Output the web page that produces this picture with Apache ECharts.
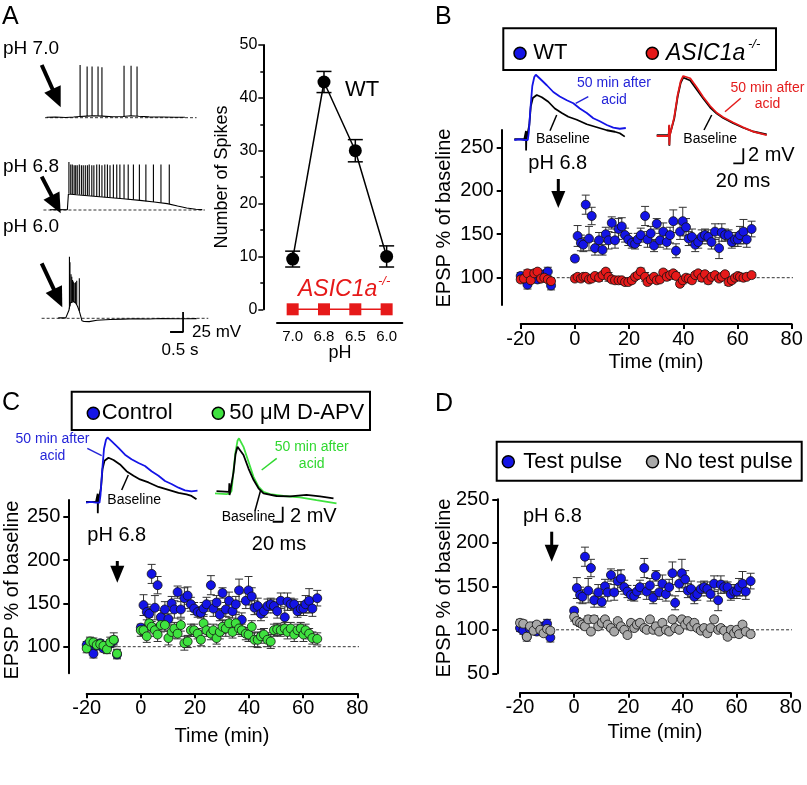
<!DOCTYPE html>
<html><head><meta charset="utf-8">
<script src="https://cdn.jsdelivr.net/npm/echarts@6/dist/echarts.min.js"></script>
<style>html,body{margin:0;padding:0;background:#fff}#c{width:807px;height:785px}</style>
</head><body><div id="c"></div>
<script>
// ================= DATA =================
// Panel A: number of spikes vs pH
const phCategories = ['7.0', '6.8', '6.5', '6.0'];
const spikesWT = [9.5, 43, 30, 10];
const spikesWTErr = [1.5, 2, 2.1, 2];
const spikesASIC = [0, 0, 0, 0];

// Panel A traces: [time (s), mV relative to rest]
const traceA70 = [[0.06,0.5],[0.4,0.8],[0.8,0.3],[1.1,0.8],[1.35,1.5],[1.6,2],[1.9,2.5],[2.2,2],[2.6,1.2],[3.0,1.5],[3.3,2.5],[3.6,1.8],[4.0,1.0],[4.5,0.8],[5.0,0.5],[5.38,0.6]];
const spikesA70 = [[1.35,1.5,66],[1.62,2,64],[1.81,2,64],[2.04,2.5,64],[2.19,2,63],[3.04,1.5,65],[3.31,2.5,65],[3.54,2,64]];
const traceA68 = [[0.19,0.3],[0.5,0.5],[0.86,0.3],[0.9,20],[0.95,21],[1.2,19],[2.1,16.5],[3.0,14],[3.65,12],[4.2,10],[4.7,8],[5.1,5],[5.45,2.5],[5.8,1],[6.05,0.5]];
const spikesA68 = [[0.92,21,60],[0.99,20,57],[1.05,20,57],[1.12,19.5,56],[1.18,19.5,56],[1.24,19.5,56],[1.32,19,57],[1.40,19,56],[1.47,18.5,56],[1.55,18.5,56],[1.63,18,56],[1.70,18,57],[1.80,17.5,56],[1.88,17.5,56],[1.99,17,57],[2.09,16.5,57],[2.19,16.5,56],[2.30,16,57],[2.40,16,57],[2.50,15.5,56],[2.63,15,57],[2.76,15,57],[2.88,14.5,57],[3.04,14,57],[3.20,13.5,57],[3.40,13,57],[3.63,12,57],[3.88,11,57],[4.17,10,57],[4.46,9,57],[4.78,7.5,57]];
const traceA60 = [[0.51,0.5],[0.8,0.5],[0.87,0.3],[0.92,10],[0.97,19],[1.03,21],[1.1,21],[1.18,19],[1.25,15],[1.32,9],[1.38,2],[1.42,-3],[1.5,-4],[1.7,-4.2],[2.0,-2.5],[2.5,-1.5],[3.0,-1],[3.5,-0.5],[4.0,-0.8],[4.5,-0.3],[5.0,-0.6],[5.5,-0.5],[5.83,-0.4]];
const spikesA60 = [[0.94,12,77],[0.96,15,70],[1.0,19,55],[1.03,20,52],[1.06,21,48],[1.09,21,46],[1.12,20,44],[1.17,19,45],[1.22,17,47],[1.32,9,50]];
const baselineA70 = [0, 5.83];
const baselineA68 = [-0.06, 6.15];
const baselineA60 = [-0.13, 6.28];
const scaleBarA = [0.5, 25];   // s, mV

// EPSP time course: time (min)
const timePre = [-20,-18.8,-17.5,-16.3,-15,-13.8,-12.5,-11.3,-10,-8.8];
const timePost = [0,1,2.2,3.1,4.0,5.2,6.2,7.4,8.9,10.2,11.4,12.4,13.6,14.8,16.1,17.3,18.5,19.7,21.0,22.2,23.2,24.3,25.9,26.8,28.0,29.2,30.2,31.4,32.6,33.9,35.1,36.3,37.3,38.8,39.8,41.0,42.0,43.2,44.4,45.5,46.8,48.0,49.2,50.4,51.7,53.2,54.2,55.4,56.7,57.9,59.1,60.1,60.9,62.2,63.4,65.2];
const wtPre = [102,99,92,101,104,98,100,104,107,91];
const wtPreErr = [4,4,5,4,4,4,4,4,5,5];
const wtPost = [122,148,140,138,184,145,171,134,143,132,150,143,163,143,156,159,149,144,140,139,144,149,171,144,151,137,162,143,153,141,149,165,131,153,165,158,145,147,138,141,147,149,147,141,153,134,152,149,149,141,144,144,149,153,144,156];
const wtPostErr = [3,12,9,8,11,14,10,8,9,6,8,10,7,9,12,10,8,7,6,6,7,8,11,9,8,7,6,8,10,8,9,13,8,9,16,10,8,9,8,7,8,7,8,8,9,12,10,7,6,7,8,8,10,14,9,9];
const asicPre = [98,99,105,97,105,107,99,100,98,96];
const asicPreErr = [3,3,4,3,4,3,3,3,3,3];
const asicPost = [99,101,99,101,101,98,99,102,100,103,107,101,98,97,97,97,95,95,97,101,103,107,101,95,98,101,97,98,106,101,103,105,102,93,97,100,99,97,103,105,100,104,97,101,103,99,101,104,95,97,100,102,101,100,101,103];
const asicPostErr = [3,3,3,3,3,3,3,3,4,3,3,5,3,3,3,3,3,3,3,3,3,4,5,3,3,3,3,3,3,4,3,3,4,3,4,3,3,3,3,3,4,3,4,3,3,3,3,3,4,3,3,3,3,3,3,3];
const apvPre = [98,106,105,102,103,101,97,105,108,92];
const apvPreErr = [5,5,5,4,4,5,5,6,8,5];
const apvPost = [119,119,112,127,123,119,114,125,125,110,117,121,115,125,104,106,119,119,115,108,127,119,115,119,110,117,123,121,127,117,127,121,119,115,114,123,108,108,112,114,108,106,119,120,119,121,117,121,114,119,121,114,119,115,110,109];
const apvPostErr = [7,6,7,7,6,7,8,8,7,8,7,7,6,7,8,7,7,7,6,7,8,7,7,7,7,8,8,9,7,7,10,7,7,7,8,7,8,9,8,7,8,8,7,7,7,7,8,7,8,7,7,8,7,6,7,7];
const noTestPre = [108,107,92,104,99,106,100,96,101,99];
const noTestPreErr = [4,4,3,3,3,3,3,3,3,3];
const noTestPost = [115,110,108,106,104,112,98,112,104,108,112,106,102,98,110,104,100,94,108,102,106,108,102,100,112,100,104,98,108,100,98,112,102,100,112,106,110,104,108,102,99,102,96,102,112,100,102,99,92,100,96,100,95,106,98,95];
const noTestPostErr = [5,4,4,3,3,4,3,4,3,3,3,3,3,3,3,3,3,3,3,3,3,3,3,3,3,3,3,3,3,3,3,3,3,3,3,3,3,3,3,3,3,3,3,3,3,3,3,3,3,3,3,3,3,3,3,3];
const timeTicks = [-20, 0, 20, 40, 60, 80];
const epspTicks = [100, 150, 200, 250];
const epspTicksD = [50, 100, 150, 200, 250];
const refLevel = 100;
const refExtent = [-27, 82];

// EPSP example traces: [time (ms), mV]
const epspWT50 = [[0,0],[10,0.1],[20,0],[23,0.2],[27,0],[29,1],[32,4],[36,7.2],[40,8.4],[43,8.7],[51,8.2],[65,7.3],[78,6.4],[91,5.8],[105,5.3],[118,4.9],[131,4.2],[145,3.6],[158,2.9],[171,2.5],[185,2.0],[198,1.65],[211,1.5],[223,1.6]];
const epspWTBase = [[0,0.1],[20,0.1],[23,0],[23.4,1.2],[23.6,-1.4],[24,0],[27,0],[30,2],[33,4.5],[37,5.6],[45,6.0],[55,5.7],[68,5.1],[81,4.2],[95,3.6],[108,3.1],[125,2.7],[145,2.1],[165,1.7],[185,1.3],[201,1.1],[211,0.9],[221,0.45]];
const epspASIC50 = [[0,0],[24,0],[25,1.5],[25.3,-1.2],[26,0],[30,0],[35,2.5],[42,5.5],[48,7.3],[53,8.0],[57,8.13],[67,7.7],[80,6.5],[93,5.2],[107,4.0],[120,3.1],[133,2.5],[153,1.8],[173,1.16],[193,0.58],[220,0.13]];
const epspASICBase = [[0,0.1],[24,0.1],[25,1.4],[25.3,-1.3],[26,0.1],[30,0.1],[35,2.3],[42,5.3],[48,7.1],[53,7.8],[57,7.9],[67,7.4],[80,6.2],[93,5.0],[107,3.8],[120,3.0],[133,2.4],[153,1.7],[173,1.1],[193,0.6],[220,0.2]];
const epspAPV50 = [[0,0],[23,-0.1],[30,0],[33,0.3],[37,3],[41,5.5],[45,7],[48,7.33],[57,6.2],[67,4.2],[77,2.2],[87,0.9],[97,0.2],[110,-0.1],[137,-0.36],[170,-0.53],[203,-0.9],[243,-1.33]];
const epspAPVBase = [[3,0.3],[28,0.2],[28.7,1.33],[29,-0.22],[30,0.1],[33,0.3],[37,2.8],[41,5.2],[45,6.2],[57,5.1],[67,3.3],[77,1.8],[87,0.67],[97,0],[123,-0.36],[150,-0.4],[183,-0.22],[210,-0.4],[237,-0.67]];
const scaleBarEPSP = [20, 2];   // ms, mV

// ================= RENDERING =================
const FONT = "'Liberation Sans', Arial, Helvetica, sans-serif";
const BLUE = '#1414e6', RED = '#e61919', GREEN = '#3fe23f', GRAY = '#a8a8a8';
const BLUE_T = '#2424d8', RED_T = '#e41c1c', GREEN_T = '#30d830';

const grids = [], xAxes = [], yAxes = [], series = [], gfx = [];
const pts = (t, v, e) => t.map((x, i) => [x, v[i], e[i]]);

function hiddenGrid(ox, oy, xr, yr, pxX, pxY) {
  const gi = grids.length;
  grids.push({ left: ox + xr[0] * pxX, top: oy - yr[1] * pxY, width: (xr[1] - xr[0]) * pxX, height: (yr[1] - yr[0]) * pxY });
  xAxes.push({ gridIndex: gi, type: 'value', min: xr[0], max: xr[1], show: false });
  yAxes.push({ gridIndex: gi, type: 'value', min: yr[0], max: yr[1], show: false });
  return gi;
}
const axLine = { show: true, onZero: false, lineStyle: { color: '#000', width: 2 } };
function mainGrid(box, yMin, yMax, yTicks, xOff, yOff) {
  const gi = grids.length;
  grids.push(box);
  xAxes.push({ gridIndex: gi, type: 'value', min: -20, max: 80, interval: 20, offset: xOff,
    axisLine: axLine, axisTick: { show: true, length: 5, lineStyle: { color: '#000', width: 2 } },
    axisLabel: { fontSize: 20, color: '#000', fontFamily: FONT, margin: 5 }, splitLine: { show: false } });
  yAxes.push({ gridIndex: gi, type: 'value', min: yMin, max: yMax, offset: yOff,
    axisLine: axLine, axisTick: { show: true, length: 5, customValues: yTicks, lineStyle: { color: '#000', width: 2 } },
    axisLabel: { fontSize: 20, color: '#000', fontFamily: FONT, margin: 8, customValues: yTicks }, splitLine: { show: false } });
  return gi;
}
function lineS(gi, data, color, width, z, dashed) {
  series.push({ type: 'line', xAxisIndex: gi, yAxisIndex: gi, data, symbol: 'none', silent: true, clip: false, z: z || 2,
    lineStyle: { color, width, type: dashed ? [3, 2] : 'solid' } });
}
function errS(gi, data, cap, color, width, z) {
  series.push({ type: 'custom', xAxisIndex: gi, yAxisIndex: gi, data, z, silent: true, encode: { x: 0, y: 1 },
    renderItem: (p, api) => {
      const x = api.value(0), y = api.value(1), e = api.value(2);
      const a = api.coord([x, y + e]), b = api.coord([x, y - e]);
      const st = { stroke: color, lineWidth: width };
      return { type: 'group', children: [
        { type: 'line', shape: { x1: a[0], y1: a[1], x2: b[0], y2: b[1] }, style: st },
        { type: 'line', shape: { x1: a[0] - cap, y1: a[1], x2: a[0] + cap, y2: a[1] }, style: st },
        { type: 'line', shape: { x1: b[0] - cap, y1: b[1], x2: b[0] + cap, y2: b[1] }, style: st }] };
    } });
}
function spikeS(gi, data) {
  series.push({ type: 'custom', xAxisIndex: gi, yAxisIndex: gi, data, z: 3, silent: true, encode: { x: 0, y: [1, 2] },
    renderItem: (p, api) => {
      const a = api.coord([api.value(0), api.value(1)]), b = api.coord([api.value(0), api.value(2)]);
      return { type: 'line', shape: { x1: a[0], y1: a[1], x2: b[0], y2: b[1] }, style: { stroke: '#000', lineWidth: 1.1 } };
    } });
}
function scatterS(gi, data, color, z) {
  series.push({ type: 'scatter', xAxisIndex: gi, yAxisIndex: gi, data, symbolSize: 9, z, silent: true,
    itemStyle: { color, borderColor: '#111', borderWidth: 0.8, opacity: 1 } });
}
function scaleBar(gi, corner, len) {
  lineS(gi, [[corner[0] - len[0], corner[1]], corner, [corner[0], corner[1] + len[1]]], '#000', 1.8, 5);
}

// ---- Panel A spike chart ----
const gA = grids.length;
grids.push({ left: 277, top: 45, width: 125.3, height: 264.3 });
xAxes.push({ gridIndex: gA, type: 'category', data: phCategories, offset: 13.4, axisLine: axLine,
  axisTick: { show: false }, axisLabel: { fontSize: 15, color: '#000', fontFamily: FONT, margin: 7 } });
yAxes.push({ gridIndex: gA, type: 'value', min: 0, max: 50, interval: 10, offset: 13.7, axisLine: axLine,
  axisTick: { show: true, length: 5, lineStyle: { color: '#000', width: 1.5 } },
  minorTick: { show: true, splitNumber: 2, length: 3, lineStyle: { color: '#000', width: 1.5 } },
  axisLabel: { fontSize: 16, color: '#000', fontFamily: FONT, margin: 6 }, splitLine: { show: false } });
errS(gA, spikesWT.map((v, i) => [i, v, spikesWTErr[i]]), 7.5, '#000', 1.5, 2);
series.push({ type: 'line', xAxisIndex: gA, yAxisIndex: gA, data: spikesWT, symbol: 'circle', symbolSize: 13, z: 3,
  itemStyle: { color: '#000' }, lineStyle: { color: '#000', width: 1.5 } });
series.push({ type: 'line', xAxisIndex: gA, yAxisIndex: gA, data: spikesASIC, symbol: 'rect', symbolSize: 12, z: 3, clip: false,
  itemStyle: { color: RED }, lineStyle: { color: RED, width: 1.5 } });

// ---- Panel A traces ----
const gA70 = hiddenGrid(45, 117.7, [-0.3, 6.4], [-6, 70], 26, 0.8);
const gA68 = hiddenGrid(45, 210, [-0.3, 6.4], [-6, 65], 26, 0.8);
const gA60 = hiddenGrid(45, 318.3, [-0.3, 6.4], [-19, 80], 26, 0.8);
[[gA70, baselineA70, traceA70, spikesA70], [gA68, baselineA68, traceA68, spikesA68], [gA60, baselineA60, traceA60, spikesA60]].forEach(([g, bl, tr, sp]) => {
  lineS(g, [[bl[0], 0], [bl[1], 0]], '#333', 1, 1, true);
  lineS(g, tr, '#000', 1.1, 3);
  spikeS(g, sp);
});
scaleBar(gA60, [5.31, -17.1], scaleBarA);

// ---- Panels B, C, D main charts ----
const gB = mainGrid({ left: 520.7, top: 130, width: 271, height: 175 }, 68.6, 269.9, epspTicks, 19, 19);
const gC = mainGrid({ left: 86.7, top: 500, width: 270.6, height: 173.3 }, 69.3, 269.3, epspTicks, 20, 18.4);
const gD = mainGrid({ left: 520, top: 499.3, width: 270.7, height: 174 }, 50, 250, epspTicksD, 19.4, 22.7);
const wtData = pts(timePre, wtPre, wtPreErr).concat(pts(timePost, wtPost, wtPostErr));
const panels = [
  [gB, pts(timePre, asicPre, asicPreErr).concat(pts(timePost, asicPost, asicPostErr)), RED],
  [gC, pts(timePre, apvPre, apvPreErr).concat(pts(timePost, apvPost, apvPostErr)), GREEN],
  [gD, pts(timePre, noTestPre, noTestPreErr).concat(pts(timePost, noTestPost, noTestPostErr)), GRAY]
];
panels.forEach(([g, other, col]) => {
  lineS(g, [[refExtent[0], refLevel], [refExtent[1], refLevel]], '#333', 1, 1, true);
  errS(g, wtData, 4, '#333', 1, 2);
  errS(g, other, 4, '#333', 1, 2);
  scatterS(g, wtData, BLUE, 3);
  scatterS(g, other, col, 4);
});

// ---- EPSP example traces ----
const gBwt = hiddenGrid(514.3, 140, [-5, 235], [-3, 10], 0.5, 7.5);
const gBas = hiddenGrid(656.7, 136, [-5, 235], [-5, 10], 0.5, 7.5);
const gCwt = hiddenGrid(86, 502.7, [-5, 235], [-3, 10], 0.5, 7.5);
const gCap = hiddenGrid(215, 493.3, [-5, 250], [-5, 10], 0.5, 7.5);
lineS(gBwt, epspWTBase, '#000', 1.8, 3); lineS(gBwt, epspWT50, BLUE, 1.8, 4);
lineS(gCwt, epspWTBase, '#000', 1.8, 3); lineS(gCwt, epspWT50, BLUE, 1.8, 4);
lineS(gBas, epspASICBase, '#000', 1.8, 3); lineS(gBas, epspASIC50, RED, 1.8, 4);
lineS(gCap, epspAPV50, GREEN, 1.8, 3); lineS(gCap, epspAPVBase, '#000', 1.8, 4);
scaleBar(gBas, [173.2, -3.64], scaleBarEPSP);
scaleBar(gCap, [135.4, -3.79], scaleBarEPSP);

// ================= ANNOTATIONS =================
function T(x, y, text, size, o) {
  o = o || {};
  const al = o.align || 'left';
  gfx.push({ type: 'text', x, y, rotation: o.rot || 0, z: 100, silent: true,
    style: { text, fontSize: size, fontFamily: FONT, fontStyle: o.italic ? 'italic' : 'normal', fill: o.color || '#000',
      align: al, verticalAlign: 'middle', textAlign: al, textVerticalAlign: 'middle' } });
}
function Ln(x1, y1, x2, y2, color, w) {
  gfx.push({ type: 'line', z: 100, silent: true, shape: { x1, y1, x2, y2 }, style: { stroke: color || '#000', lineWidth: w || 1.5 } });
}
function arrow(x1, y1, x2, y2, hl, hw, sw) {
  const dx = x2 - x1, dy = y2 - y1, L = Math.hypot(dx, dy), ux = dx / L, uy = dy / L;
  const bx = x2 - ux * hl, by = y2 - uy * hl, px = -uy, py = ux;
  Ln(x1, y1, bx + ux, by + uy, '#000', sw);
  gfx.push({ type: 'polygon', z: 100, silent: true, shape: { points: [[x2, y2], [bx + px * hw, by + py * hw], [bx - px * hw, by - py * hw]] }, style: { fill: '#000' } });
}
function dot(cx, cy, color) {
  gfx.push({ type: 'circle', z: 100, silent: true, shape: { cx, cy, r: 6 }, style: { fill: color, stroke: '#000', lineWidth: 1.5 } });
}
function box(x, y, w, h) {
  gfx.push({ type: 'rect', z: 99, silent: true, shape: { x, y, width: w, height: h }, style: { fill: '#fff', stroke: '#000', lineWidth: 2 } });
}
const R90 = Math.PI / 2;

// Panel letters
T(2, 17, 'A', 25); T(435, 17.5, 'B', 25); T(2, 403, 'C', 25); T(435, 404, 'D', 25);

// Panel A
T(3, 49, 'pH 7.0', 19); T(3, 167, 'pH 6.8', 19); T(3, 227, 'pH 6.0', 19);
arrow(41.7, 65, 60.7, 107.3, 20, 9, 4);
arrow(41.7, 176.7, 60.7, 213.3, 20, 9, 4);
arrow(41.7, 263.3, 62.3, 307.3, 20, 9, 4);
T(192, 332, '25 mV', 17); T(180, 350, '0.5 s', 17, { align: 'center' });
T(222, 177, 'Number of Spikes', 18, { align: 'center', rot: R90 });
T(345, 90, 'WT', 22);
T(298, 290, 'ASIC1a', 23, { italic: true, color: RED });
T(378, 281, '-/-', 13, { italic: true, color: RED });
T(340, 353, 'pH', 18, { align: 'center' });

// Panel B
box(503.3, 28.3, 272.7, 41.7);
dot(520, 53.3, BLUE); T(533.3, 53.3, 'WT', 22);
dot(652.3, 53.3, RED); T(666, 53.3, 'ASIC1a', 23, { italic: true }); T(748, 44, '-/-', 13, { italic: true });
T(614, 83.3, '50 min after', 14, { align: 'center', color: BLUE_T }); T(614, 100, 'acid', 14, { align: 'center', color: BLUE_T });
Ln(575.7, 103.3, 588.3, 96.7, BLUE_T, 1.5);
T(536, 139.3, 'Baseline', 14); Ln(550, 130.7, 556.7, 115, '#000', 1.5);
T(767.5, 88.3, '50 min after', 14, { align: 'center', color: RED_T }); T(767.5, 104.3, 'acid', 14, { align: 'center', color: RED_T });
Ln(725, 111.7, 740.7, 98.3, RED_T, 1.5);
T(683.3, 139.3, 'Baseline', 14); Ln(704, 130, 711.7, 115, '#000', 1.5);
T(748, 155, '2 mV', 20); T(743, 181.7, '20 ms', 20, { align: 'center' });
T(528.3, 163.3, 'pH 6.8', 20); arrow(558.3, 179, 558.3, 208, 17, 7, 3);
T(444, 218, 'EPSP % of baseline', 20, { align: 'center', rot: R90 });
T(656, 362.7, 'Time (min)', 20, { align: 'center' });

// Panel C
box(71.7, 391.7, 298.3, 38.3);
dot(93.3, 413.3, BLUE); T(101.7, 413.3, 'Control', 22);
dot(218.3, 413.3, GREEN); T(229.3, 413.3, '50 \u03bcM D-APV', 22);
T(52.5, 439.3, '50 min after', 14, { align: 'center', color: BLUE_T }); T(52.5, 456, 'acid', 14, { align: 'center', color: BLUE_T });
Ln(87.3, 448.3, 101.7, 455.7, BLUE_T, 1.5);
T(107.3, 500, 'Baseline', 14); Ln(121.7, 490, 128.3, 475, '#000', 1.5);
T(311.7, 447.3, '50 min after', 14, { align: 'center', color: GREEN_T }); T(311.7, 464, 'acid', 14, { align: 'center', color: GREEN_T });
Ln(261.7, 470, 276.7, 458.3, GREEN_T, 1.5);
T(221.7, 516.7, 'Baseline', 14); Ln(255, 510.7, 260.7, 490, '#000', 1.5);
T(290, 516.7, '2 mV', 20); T(279, 544.3, '20 ms', 20, { align: 'center' });
T(87.3, 535, 'pH 6.8', 20); arrow(117.3, 561, 117.3, 582.7, 17, 7, 3);
T(12, 590, 'EPSP % of baseline', 20, { align: 'center', rot: R90 });
T(222, 736.7, 'Time (min)', 20, { align: 'center' });

// Panel D
box(496.7, 441.7, 305, 39);
dot(508.3, 461.7, BLUE); T(523.3, 461.7, 'Test pulse', 22);
dot(652.5, 461.7, GRAY); T(664.3, 461.7, 'No test pulse', 22);
T(523, 516.7, 'pH 6.8', 20); arrow(551.7, 531.7, 551.7, 561.7, 17, 7, 3);
T(444, 588, 'EPSP % of baseline', 20, { align: 'center', rot: R90 });
T(655, 732.3, 'Time (min)', 20, { align: 'center' });

const chart = echarts.init(document.getElementById('c'), null, { renderer: 'canvas' });
chart.setOption({ animation: false, backgroundColor: '#fff', grid: grids, xAxis: xAxes, yAxis: yAxes, series, graphic: { elements: gfx } });
</script></body></html>
